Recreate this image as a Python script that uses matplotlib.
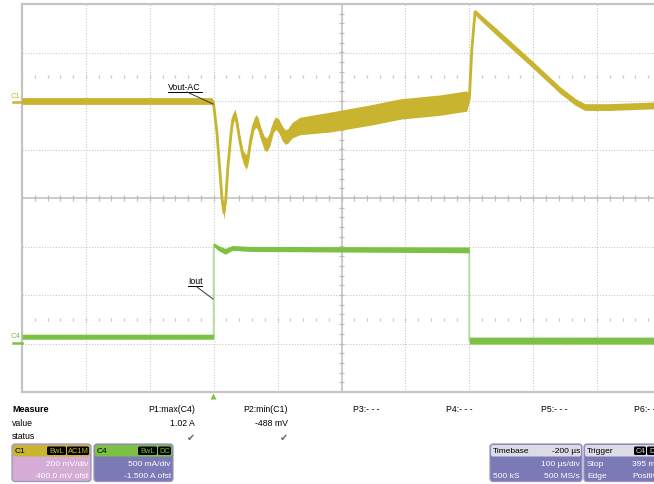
import numpy as np
import matplotlib.pyplot as plt
from matplotlib.patches import FancyBboxPatch

plt.rcParams['font.family'] = ['Liberation Sans', 'DejaVu Sans']

# scope settings
c1_scale, c1_ofst = 200, 400      # mV/div, mV ofst
c4_scale, c4_ofst = 0.5, -1.5     # A/div, A ofst
t_div, t_delay = 100, -200        # us/div, us

# C1 Vout-AC (mV): center of trace and half thickness of the band
c1_t = [-300, -3, -1, 0, 5, 10, 13, 16, 19, 22, 27, 30, 33, 36, 41, 46, 51, 54, 58, 63, 66,
        69, 74, 79, 83, 88, 93, 97, 102, 107, 112, 116, 123, 135, 182, 245, 292, 354, 396,
        400, 404, 409, 417, 448, 500, 542, 566, 581, 620, 700]
c1_mv = [0, 0, -8, -16, -128, -301, -404, -460, -404, -280, -136, -74, -54, -83, -165, -231,
         -252, -231, -157, -95, -83, -91, -136, -173, -181, -157, -107, -91, -103, -132, -149,
         -144, -120, -103, -87, -58, -33, -17, 0, 8, 214, 367, 346, 272, 148, 45, -4, -25, -25, -17]
c1_hw = [14, 14, 14, 12, 10, 10, 16, 28, 16, 12, 14, 18, 22, 22, 22, 26, 30, 26, 24, 24, 26,
         26, 26, 28, 28, 28, 26, 26, 28, 30, 30, 30, 32, 36, 41, 42, 42, 42, 42, 10, 8, 12, 12,
         14, 14, 14, 14, 14, 14, 14]

# C4 Iout (A)
c4_t = [-300, 0, 0, 7, 18, 29, 57, 400, 400, 700]
c4_a = [0.07, 0.07, 1.02, 0.985, 0.95, 0.985, 0.975, 0.965, 0.03, 0.03]
c4_hw = [0.026, 0.026, 0.02, 0.025, 0.03, 0.025, 0.026, 0.03, 0.036, 0.036]

yel = '#c8b42e'
grn = '#7cc144'
grid_c = '#c8c8c8'

fig = plt.figure(figsize=(6.54, 4.85), dpi=100)
ax = fig.add_axes([22/654, 1-393/485, 639/654, 388/485])
center = -t_delay
ax.set_xlim(center - 5*t_div, center + 5*t_div)
ax.set_ylim(-4, 4)
ax.set_xticks([]); ax.set_yticks([])
for s in ['left', 'top', 'bottom']:
    ax.spines[s].set_color('#c4c4c4')
    ax.spines[s].set_linewidth(1.6)
ax.spines['right'].set_visible(False)

# graticule
for x in np.arange(center - 4*t_div, center + 5*t_div, t_div):
    if x != center:
        ax.axvline(x, color=grid_c, lw=0.8, ls=(0, (1, 1.5)), zorder=1)
for y in range(-3, 4):
    if y != 0:
        ax.axhline(y, color=grid_c, lw=0.8, ls=(0, (1, 1.5)), zorder=1)
ax.axvline(center, color='#bdbdbd', lw=1.1, zorder=1)
ax.axhline(0, color='#bdbdbd', lw=1.1, zorder=1)
tk = np.arange(center - 5*t_div, center + 5*t_div + 1, t_div/5)
ax.vlines(tk, -0.06, 0.06, color='#bdbdbd', lw=0.9, zorder=1)
for yy in (2.5, -2.5):
    ax.vlines(tk, yy - 0.035, yy + 0.035, color=grid_c, lw=0.9, zorder=1)
tky = np.arange(-4, 4.01, 0.2)
ax.hlines(tky, center - 4, center + 4, color='#bdbdbd', lw=0.9, zorder=1)

# traces
t1 = np.array(c1_t)
y1 = (np.array(c1_mv) + c1_ofst) / c1_scale
h1 = np.array(c1_hw) / c1_scale
ax.fill_between(t1, y1 - h1, y1 + h1, color=yel, lw=0, zorder=3)
ax.plot(t1, y1, color=yel, lw=2.0, zorder=3)

t4 = np.array(c4_t)
y4 = (np.array(c4_a) + c4_ofst) / c4_scale
h4 = np.array(c4_hw) / c4_scale
ax.plot(t4, y4, color='#b4dc9c', lw=1.3, zorder=2)
ax.fill_between(t4, y4 - h4, y4 + h4, color=grn, lw=0, zorder=3)

# overlay in pixel coords
ov = fig.add_axes([0, 0, 1, 1], zorder=5)
ov.patch.set_alpha(0)
ov.axis('off')
ov.set_xlim(0, 654)
ov.set_ylim(485, 0)

# trace labels
ov.text(168, 87, 'Vout-AC', fontsize=6.3, ha='left', va='center')
ov.plot([168, 202], [92.5, 92.5], color='black', lw=0.7)
ov.plot([187, 213], [93, 105], color='#333333', lw=0.7)
ov.text(188, 281.5, 'Iout', fontsize=6.3, ha='left', va='center')
ov.plot([188, 202], [287, 287], color='black', lw=0.7)
ov.plot([197, 213], [288, 300], color='#333333', lw=0.7)

ov.text(11, 96, 'C1', color=yel, fontsize=5.5, ha='left', va='center')
ov.plot([13, 22], [103, 103], color=yel, lw=1.8)
ov.text(11, 337, 'C4', color=grn, fontsize=5.5, ha='left', va='center')
ov.plot([13, 22], [344, 344], color=grn, lw=1.8)
ov.plot(213, 397, marker='^', ms=4.5, color=grn, mec='none')

# measure table
fs = 6.3
ov.text(12, 409.5, 'Measure', fontsize=6.5, fontweight='bold', va='center')
ov.text(12, 423.5, 'value', fontsize=fs, va='center')
ov.text(12, 437, 'status', fontsize=fs, va='center')
ov.text(195, 409.5, 'P1:max(C4)', fontsize=fs, ha='right', va='center')
ov.text(288, 409.5, 'P2:min(C1)', fontsize=fs, ha='right', va='center')
for x, s in [(353, 'P3:- - -'), (446, 'P4:- - -'), (541, 'P5:- - -'), (634, 'P6:- - -')]:
    ov.text(x, 409.5, s, fontsize=fs, va='center')
ov.text(195, 423.5, '1.02 A', fontsize=fs, ha='right', va='center')
ov.text(288, 423.5, '-488 mV', fontsize=fs, ha='right', va='center')
for x in (191, 284):
    ov.text(x, 437.5, '\u2714', fontsize=7, ha='center', va='center', color='#6a6a6a',
            family=['DejaVu Sans'])


def box(x0, x1, head_c, body_c):
    ov.add_patch(FancyBboxPatch((x0, 445), x1 - x0, 37.5, boxstyle='round,pad=0,rounding_size=3',
                                fc=body_c, ec='#9a94bc', lw=0.9))
    ov.add_patch(FancyBboxPatch((x0 + 1, 446), x1 - x0 - 2, 11.5, boxstyle='round,pad=0,rounding_size=2',
                                fc=head_c, ec='none'))


def tag(x0, x1, s, c):
    ov.add_patch(FancyBboxPatch((x0, 447.5), x1 - x0, 8.5, boxstyle='round,pad=0,rounding_size=1.5',
                                fc='black', ec='none'))
    ov.text((x0 + x1) / 2, 452, s, color=c, fontsize=5.4, ha='center', va='center')


bs = 6.0
box(12, 91, yel, '#d5acd5')
ov.text(15, 452, 'C1', fontsize=bs, va='center')
tag(47, 66, 'BwL', yel)
tag(67, 89, 'AC1M', yel)
ov.text(88, 465, '200 mV/div', color='white', fontsize=bs, ha='right', va='center')
ov.text(88, 477, '400.0 mV ofst', color='white', fontsize=bs, ha='right', va='center')

box(94, 173, grn, '#7b79b6')
ov.text(97, 452, 'C4', fontsize=bs, va='center')
tag(138, 157, 'BwL', grn)
tag(158, 171, 'DC', grn)
ov.text(171, 465, '500 mA/div', color='white', fontsize=bs, ha='right', va='center')
ov.text(171, 477, '-1.500 A ofst', color='white', fontsize=bs, ha='right', va='center')

box(490, 582, '#dcdce6', '#7b79b6')
ov.text(493, 452, 'Timebase', fontsize=bs, va='center')
ov.text(580, 452, '-200 \u00b5s', fontsize=bs, ha='right', va='center')
ov.text(580, 465, '100 \u00b5s/div', color='white', fontsize=bs, ha='right', va='center')
ov.text(493, 477, '500 kS', color='white', fontsize=bs, va='center')
ov.text(580, 477, '500 MS/s', color='white', fontsize=bs, ha='right', va='center')

box(584, 680, '#dcdce6', '#7b79b6')
ov.text(587, 452, 'Trigger', fontsize=bs, va='center')
tag(634, 646, 'C4', '#e0e0e0')
tag(647, 662, 'DC', '#e0e0e0')
ov.text(587, 465, 'Stop', color='white', fontsize=bs, va='center')
ov.text(632, 465, '395 mA', color='white', fontsize=bs, va='center')
ov.text(587, 477, 'Edge', color='white', fontsize=bs, va='center')
ov.text(632, 477, 'Positive', color='white', fontsize=bs, va='center')

fig.savefig('out.png', dpi=100)
